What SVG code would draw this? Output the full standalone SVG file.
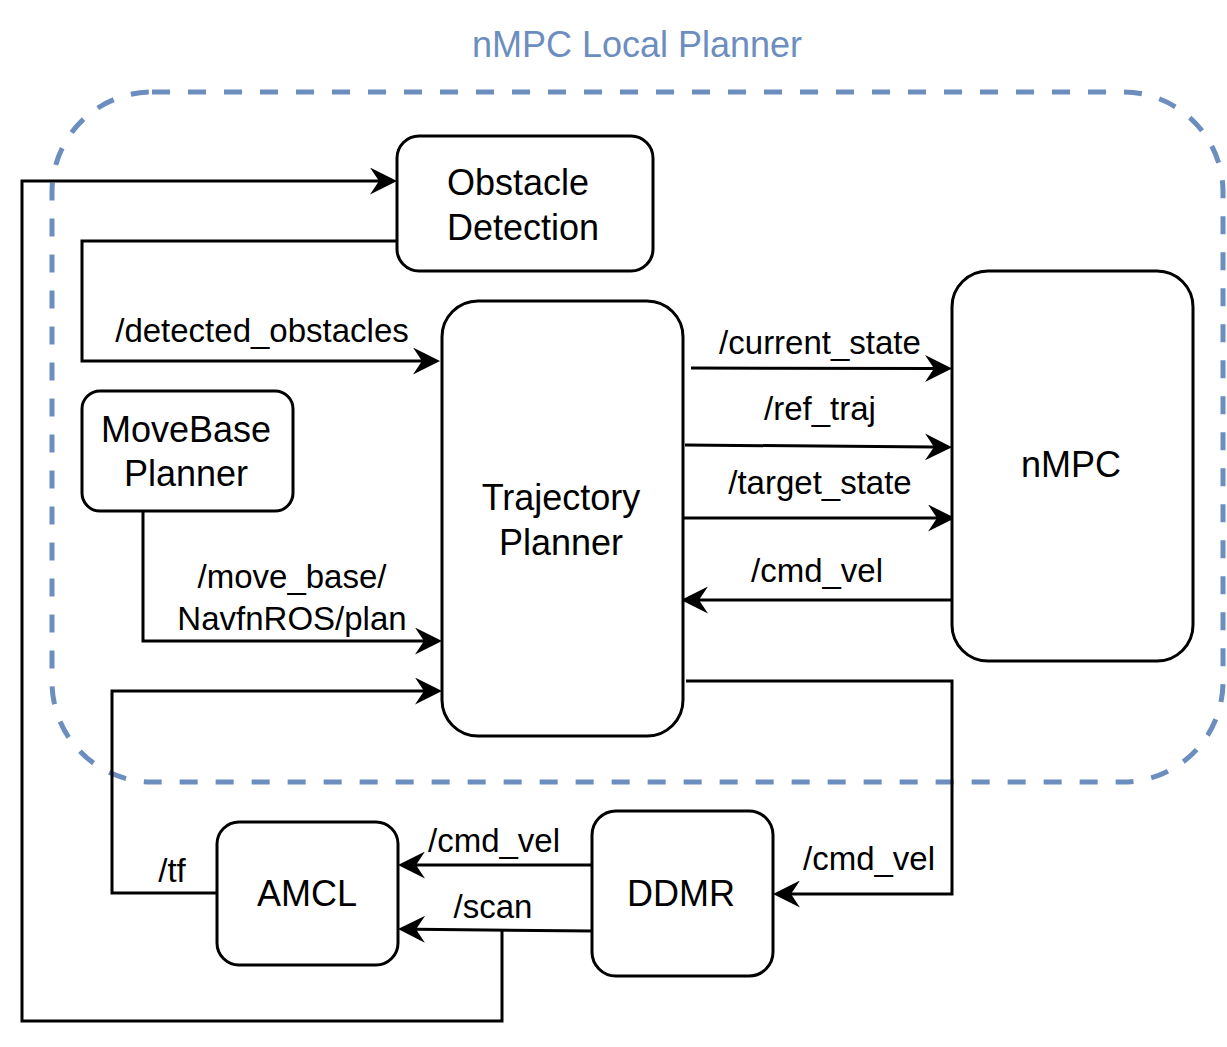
<svg xmlns="http://www.w3.org/2000/svg" width="1227" height="1047" viewBox="0 0 1227 1047">
  <style>
    .node { fill: #ffffff; stroke: #000000; stroke-width: 3; }
    .nt { font-family: "Liberation Sans", Arial, sans-serif; font-size: 36px; fill: #000000; text-anchor: middle; }
    .et { font-family: "Liberation Sans", Arial, sans-serif; font-size: 33px; fill: #000000; text-anchor: middle; }
    .edge { fill: none; stroke: #000000; stroke-width: 3; }
    .arr { marker-end: url(#arrow); }
    .container { fill: none; stroke: #6c8ebf; stroke-width: 5; stroke-dasharray: 18 18; }
    .title { font-family: "Liberation Sans", Arial, sans-serif; font-size: 36px; fill: #6c8ebf; text-anchor: middle; }
  </style>
  <defs>
    <marker id="arrow" markerUnits="userSpaceOnUse" markerWidth="27" markerHeight="27" viewBox="0 0 27 27" refX="9" refY="13.5" orient="auto">
      <path d="M27,13.5 L0,0 L9,13.5 L0,27 Z" fill="#000000"/>
    </marker>
  </defs>
  <rect width="1227" height="1047" fill="#ffffff"/>

  <g id="container">
    <rect class="container" x="52" y="92" width="1171" height="690" rx="100" ry="100"/>
    <text class="title" x="637" y="57">nMPC Local Planner</text>
  </g>

  <g id="connectors">
    <path class="edge arr" d="M502,930 L502,1021 L22,1021 L22,181 L379,181"/>
    <path class="edge arr" d="M397,241 L82,241 L82,361 L422,361"/>
    <path class="edge arr" d="M143,511 L143,641 L424,641"/>
    <path class="edge arr" d="M217,893 L112,893 L112,691 L424,691"/>
    <path class="edge arr" d="M691,368 L934,368.5"/>
    <path class="edge arr" d="M685,445 L934,447"/>
    <path class="edge arr" d="M683,518 L937,518"/>
    <path class="edge arr" d="M952,600 L699,600"/>
    <path class="edge arr" d="M686,681 L952,681 L952,894 L791,894"/>
    <path class="edge arr" d="M594,865 L416,865"/>
    <path class="edge arr" d="M592,931 L416,929.2"/>
  </g>

  <g id="labels">
    <text class="et" x="262" y="342">/detected_obstacles</text>
    <text class="et" x="820" y="354">/current_state</text>
    <text class="et" x="820" y="420">/ref_traj</text>
    <text class="et" x="820" y="494">/target_state</text>
    <text class="et" x="817" y="582">/cmd_vel</text>
    <text class="et" x="292" y="588">/move_base/</text>
    <text class="et" x="292" y="630">NavfnROS/plan</text>
    <text class="et" x="172" y="882">/tf</text>
    <text class="et" x="494" y="852">/cmd_vel</text>
    <text class="et" x="493" y="918">/scan</text>
    <text class="et" x="869" y="870">/cmd_vel</text>
  </g>

  <g id="obstacle-detection">
    <rect class="node" x="397" y="136" width="256" height="135" rx="22" ry="22"/>
    <text class="nt" x="518" y="195">Obstacle</text>
    <text class="nt" x="523" y="240">Detection</text>
  </g>

  <g id="trajectory-planner">
    <rect class="node" x="442" y="301" width="241" height="435" rx="36" ry="36"/>
    <text class="nt" x="561" y="510">Trajectory</text>
    <text class="nt" x="561" y="555">Planner</text>
  </g>

  <g id="nmpc">
    <rect class="node" x="952" y="271" width="241" height="390" rx="36" ry="36"/>
    <text class="nt" x="1071" y="477">nMPC</text>
  </g>

  <g id="movebase-planner">
    <rect class="node" x="82" y="391" width="211" height="120" rx="18" ry="18"/>
    <text class="nt" x="186" y="442">MoveBase</text>
    <text class="nt" x="186" y="486">Planner</text>
  </g>

  <g id="amcl">
    <rect class="node" x="217" y="822" width="181" height="143" rx="22" ry="22"/>
    <text class="nt" x="307" y="906">AMCL</text>
  </g>

  <g id="ddmr">
    <rect class="node" x="592" y="811" width="181" height="165" rx="24" ry="24"/>
    <text class="nt" x="681" y="906">DDMR</text>
  </g>
</svg>
